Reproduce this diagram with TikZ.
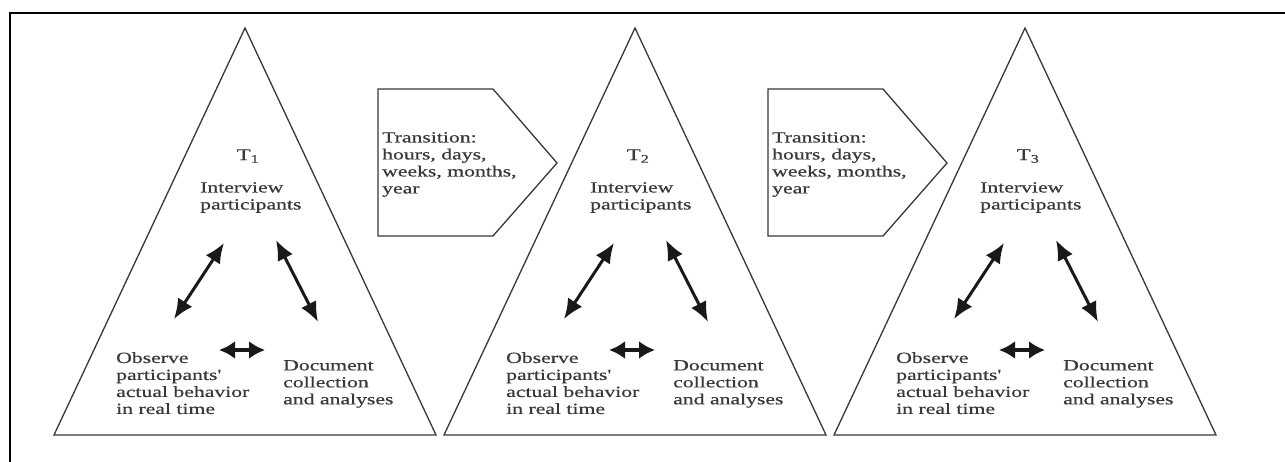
\documentclass[tikz,border=0pt]{standalone}
\usepackage{fontspec}
\setmainfont{Liberation Serif}
\newfontfamily\figfont[FakeStretch=1.4,FakeBold=0.5]{Liberation Serif}
\usetikzlibrary{arrows.meta}
\definecolor{ink}{gray}{0.22}
\tikzset{
  frameline/.style={line width=2.6pt, black},
  triline/.style={line width=1.3pt, ink, line join=miter},
  tagline/.style={line width=1.3pt, ink},
  lbl/.style={inner sep=0pt, anchor=north west, align=left, text=ink,
    font=\figfont\fontsize{15.5}{17}\selectfont},
  tlbl/.style={inner sep=0pt, text=ink, font=\figfont\fontsize{16.5}{17}\selectfont},
  dbl/.style={line width=3pt, black!90,
    {Latex[length=20pt,width=17pt]}-{Latex[length=20pt,width=17pt]}},
  sdbl/.style={line width=3.2pt, black!90,
    {Latex[length=16pt,width=18pt]}-{Latex[length=16pt,width=18pt]}},
}
\begin{document}
\begin{tikzpicture}[x=1pt,y=-1pt]
\useasboundingbox (0,0) rectangle (1285,462);
\fill[white] (0,0) rectangle (1285,462);

% outer frame (left and top edges)
\draw[frameline] (10,462) -- (10,13) -- (1285,13);

% the three time points
\foreach \k/\n in {0/1,1/2,2/3}{
  \begin{scope}[xshift=390*\k]
    \draw[triline] (245,28) -- (436,435) -- (54,435) -- cycle;
    \node[tlbl] (tp\n) at (248,156) {T\textsubscript{\n}};
    \node[lbl] (int\n) at (200,182) {Interview\\participants};
    \node[lbl] (obs\n) at (116,352) {Observe\\participants'\\actual behavior\\in real time};
    \node[lbl] (doc\n) at (283,360) {Document\\collection\\and analyses};
    \coordinate (il\n) at (224,243);
    \coordinate (ir\n) at (276,240);
    \coordinate (ol\n) at (174,319);
    \coordinate (dr\n) at (318,322);
    \coordinate (ho\n) at (219,350);
    \coordinate (hd\n) at (265,350);
    \draw[dbl] (il\n) -- (ol\n);
    \draw[dbl] (ir\n) -- (dr\n);
    \draw[sdbl] (ho\n) -- (hd\n);
  \end{scope}
}

% transitions between time points
\foreach \k in {0,1}{
  \begin{scope}[xshift=390*\k]
    \draw[tagline] (378,89) -- (493,89) -- (557,163) -- (493,236) -- (378,236) -- cycle;
    \node[lbl] (tr\k) at (382,132) {Transition:\\hours, days,\\weeks, months,\\year};
  \end{scope}
}
\end{tikzpicture}
\end{document}
